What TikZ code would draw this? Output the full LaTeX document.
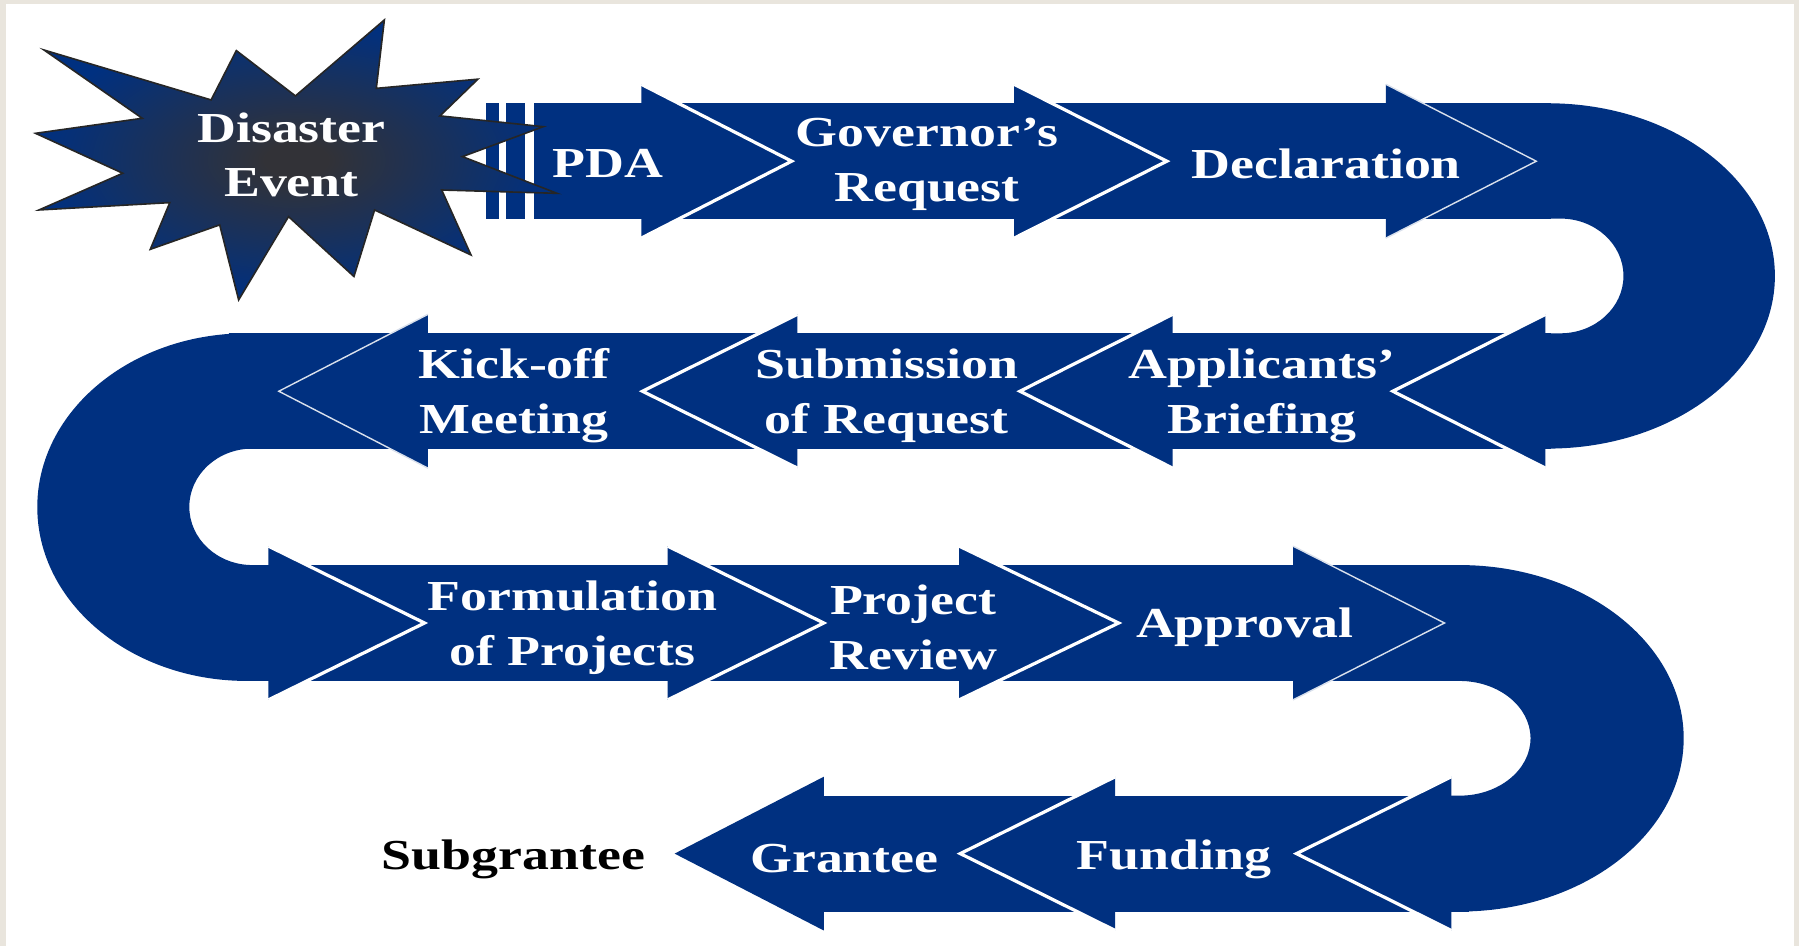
\documentclass[tikz,border=0pt]{standalone}
\usepackage{fontspec}
\usepackage{tikz}
\usetikzlibrary{positioning}
\usepackage{xcolor}
\newfontfamily\lblfont[FakeStretch=1.26]{Liberation Serif}
\definecolor{navy}{RGB}{0,48,128}
\definecolor{core}{RGB}{50,50,55}
\definecolor{frame}{RGB}{233,229,221}
\pgfdeclareradialshading{burst}{\pgfpoint{0bp}{0bp}}{color(0bp)=(core); color(3bp)=(core); color(25bp)=(navy); color(50bp)=(navy)}

\begin{document}
\begin{tikzpicture}[x=0.1mm, y=0.1mm,
	rim/.style={draw=white, line width=0.8pt},
	thinrim/.style={draw=white!85!navy, line width=0.35pt},
	lbl/.style={text=white, align=center, inner sep=0pt, font={\lblfont\bfseries\fontsize{10.6pt}{13.6pt}\selectfont}}]
				\useasboundingbox (0,0) rectangle (1568,-824.5);
				\fill[frame] (0,0) rectangle (1568,-824.5);
				\fill[white] (5,-3.5) rectangle (1564,-824.5);
				% bands
				\fill[navy] (424,-90) rectangle (435,-190.5);
				\fill[navy] (441,-90) rectangle (458,-190.5);
				\fill[navy] (465,-90) rectangle (1352,-190.5);
				\fill[navy] (200,-290.5) rectangle (1352,-391);
				\fill[navy] (215,-492.5) rectangle (1280,-593.5);
				\fill[navy] (718,-693.5) rectangle (1280,-794.5);
				% turns
				\fill[navy] (1340,-90) -- (1349,-90) arc[start angle=90, end angle=-90, x radius=19.8mm, y radius=15.05mm] -- (1300,-391) -- (1300,-290.5) -- (1360,-290.5) arc[start angle=-90, end angle=90, x radius=5.5mm, y radius=5mm] -- (1340,-190.5) -- cycle;
				\fill[navy] (260,-290.5) -- (215,-290.5) arc[start angle=90, end angle=270, x radius=18.25mm, y radius=15.15mm] -- (260,-593.5) -- (260,-492.5) -- (220,-492.5) arc[start angle=270, end angle=90, x radius=5.5mm, y radius=5.075mm] -- (260,-391) -- cycle;
				\fill[navy] (1230,-492.5) -- (1272,-492.5) arc[start angle=90, end angle=-90, x radius=19.55mm, y radius=15.1mm] -- (1230,-794.5) -- (1230,-693.5) -- (1272,-693.5) arc[start angle=-90, end angle=90, x radius=6.2mm, y radius=5mm] -- (1230,-593.5) -- cycle;
				% heads, row 1
				\fill[navy] (559,-73.5) -- (690,-140.5) -- (559,-207.5) -- cycle;
				\draw[rim] (559,-73.5) -- (690,-140.5) -- (559,-207.5);
				\fill[navy] (884,-73.5) -- (1017,-140.5) -- (884,-207.5) -- cycle;
				\draw[rim] (884,-73.5) -- (1017,-140.5) -- (884,-207.5);
				\fill[navy] (1208,-73.5) -- (1339,-140.5) -- (1208,-207.5) -- cycle;
				\draw[thinrim] (1208,-73.5) -- (1339,-140.5) -- (1208,-207.5);
				% heads, row 2
				\fill[navy] (1347,-274) -- (1214,-341) -- (1347,-408) -- cycle;
				\draw[rim] (1347,-274) -- (1214,-341) -- (1347,-408);
				\fill[navy] (1022,-274) -- (889,-341) -- (1022,-408) -- cycle;
				\draw[rim] (1022,-274) -- (889,-341) -- (1022,-408);
				\fill[navy] (695,-274) -- (560,-341) -- (695,-408) -- cycle;
				\draw[rim] (695,-274) -- (560,-341) -- (695,-408);
				\fill[navy] (373,-274) -- (243,-341) -- (373,-408) -- cycle;
				\draw[thinrim] (373,-274) -- (243,-341) -- (373,-408);
				% heads, row 3
				\fill[navy] (234,-476) -- (370,-543) -- (234,-610) -- cycle;
				\draw[rim] (234,-476) -- (370,-543) -- (234,-610);
				\fill[navy] (582,-476) -- (718,-543) -- (582,-610) -- cycle;
				\draw[rim] (582,-476) -- (718,-543) -- (582,-610);
				\fill[navy] (836,-476) -- (975,-543) -- (836,-610) -- cycle;
				\draw[rim] (836,-476) -- (975,-543) -- (836,-610);
				\fill[navy] (1127,-476) -- (1259,-543) -- (1127,-610) -- cycle;
				\draw[thinrim] (1127,-476) -- (1259,-543) -- (1127,-610);
				% heads, row 4
				\fill[navy] (1265,-677) -- (1130,-744) -- (1265,-811) -- cycle;
				\draw[rim] (1265,-677) -- (1130,-744) -- (1265,-811);
				\fill[navy] (972,-677) -- (837,-744) -- (972,-811) -- cycle;
				\draw[rim] (972,-677) -- (837,-744) -- (972,-811);
				\fill[navy] (718,-677) -- (588,-744) -- (718,-811) -- cycle;
				% star
				\shade[shading=burst, draw=black!85, line width=0.4pt] (335,-17.4) -- (328,-77) -- (416.5,-69) -- (383.5,-101) -- (473.5,-110.4) -- (403,-136.5) -- (485.5,-168.5) -- (385,-165.6) -- (410.5,-222.2) -- (326.5,-183) -- (308.5,-241) -- (251.5,-188.8) -- (208,-261.4) -- (191.5,-196) -- (131,-217.3) -- (148,-176.6) -- (34,-183) -- (107,-151) -- (31,-116.2) -- (124,-103.1) -- (38.4,-43.6) -- (184,-87.1) -- (206,-44.1) -- (257.5,-83.6) -- cycle;
				% labels
				\node[lbl] (dis) at (254,-135) {Disaster\\Event};
				\node[lbl] (pda) at (530,-142.5) {PDA};
				\node[lbl] (gov) at (808,-143) {Governor’s\\Request};
				\node[lbl] (decl) at (1156,-142.5) {Declaration};
				\node[lbl] (appl) at (1100,-345) {Applicants’\\Briefing};
				\node[lbl] (subm) at (773,-345) {Submission\\of Request};
				\node[lbl] (kick) at (448,-345) {Kick-off\\Meeting};
				\node[lbl] (form) at (499,-547) {Formulation\\of Projects};
				\node[lbl] (prev) at (796,-547) {Project\\Review};
				\node[lbl] (appr) at (1085,-547) {Approval};
				\node[lbl] (fund) at (1023,-749) {Funding};
				\node[lbl] (gran) at (736,-748) {Grantee};
				\node[lbl, text=black] (subg) at (447.5,-749) {Subgrantee};
			\end{tikzpicture}
\end{document}
